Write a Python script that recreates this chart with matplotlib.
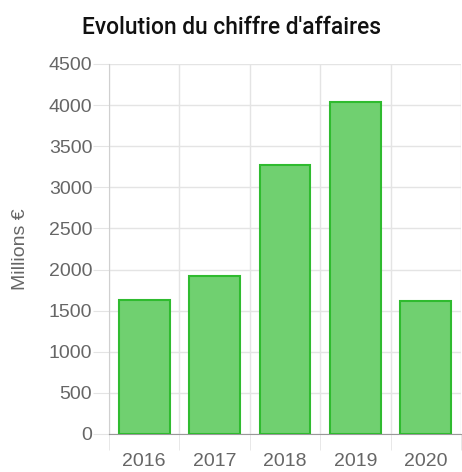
import matplotlib
matplotlib.use("Agg")
import matplotlib.pyplot as plt
import numpy as np

years = ["2016", "2017", "2018", "2019", "2020"]
revenue = [1632, 1925, 3272, 4042, 1612]   # millions €
y_ticks = [0, 500, 1000, 1500, 2000, 2500, 3000, 3500, 4000, 4500]

FILL = "#70d070"
EDGE = "#2fbb2f"
GRID = "#e4e4e4"
TXT = "#666666"

fig = plt.figure(figsize=(4.62, 4.72), dpi=100)
ax = fig.add_axes([109 / 462, 1 - 434 / 472, (461 - 109) / 462, (434 - 64) / 472])

x = np.arange(len(years))
ax.bar(x, revenue, width=0.72, color=FILL, edgecolor=EDGE, linewidth=1.5, zorder=3)

ax.set_xlim(-0.5, len(years) - 0.5)
ax.set_ylim(0, 4500)
ax.set_yticks(y_ticks)
ax.set_xticks(x)
ax.set_xticklabels(years)
ax.set_xticks(np.arange(-0.5, len(years)), minor=True)

ax.grid(True, axis="y", color=GRID, linewidth=1, zorder=0)
ax.grid(True, axis="x", which="minor", color=GRID, linewidth=1, zorder=0)
ax.tick_params(axis="y", length=11.5, color=GRID, labelcolor=TXT, labelsize=14, pad=0.5)
ax.tick_params(axis="x", which="major", length=0, labelcolor=TXT, labelsize=14, pad=14)
ax.tick_params(axis="x", which="minor", length=11.5, color=GRID)

for s in ("top", "right"):
    ax.spines[s].set_visible(False)
ax.spines["left"].set_color("#d0d0d0")
ax.spines["bottom"].set_color("#999999")

for lab in ax.get_xticklabels() + ax.get_yticklabels():
    lab.set_fontfamily("Liberation Sans")

ax.set_ylabel("Millions €", color=TXT, fontsize=14, family="Liberation Sans", labelpad=14)
fig.text(0.5, 1 - 27 / 472, "Evolution du chiffre d'affaires", ha="center", va="center",
         fontsize=16.4, fontweight="medium", family="Roboto", color="#111111")

fig.savefig("out.png", dpi=100)
